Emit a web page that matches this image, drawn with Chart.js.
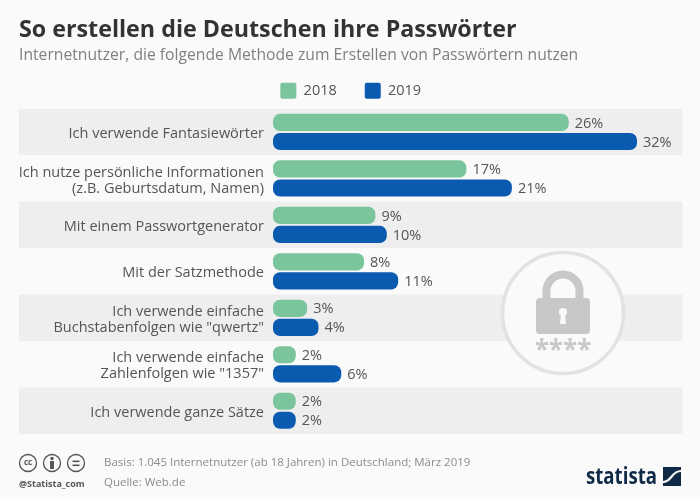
<!DOCTYPE html>
<html>
<head>
<meta charset="utf-8">
<script src="https://cdn.jsdelivr.net/npm/chart.js@4/dist/chart.umd.min.js"></script>
<style>
  html, body { margin: 0; padding: 0; background: #fafafa; }
  #wrap { width: 700px; height: 499px; }
</style>
</head>
<body>
<div id="wrap"><canvas id="pwChart"></canvas></div>
<script>
const categories = [
  'Ich verwende Fantasiewörter',
  ['Ich nutze persönliche Informationen', '(z.B. Geburtsdatum, Namen)'],
  'Mit einem Passwortgenerator',
  'Mit der Satzmethode',
  ['Ich verwende einfache', 'Buchstabenfolgen wie "qwertz"'],
  ['Ich verwende einfache', 'Zahlenfolgen wie "1357"'],
  'Ich verwende ganze Sätze'
];
const values2018 = [26, 17, 9, 8, 3, 2, 2];
const values2019 = [32, 21, 10, 11, 4, 6, 2];

const FONT = '"Open Sans", sans-serif';
const TEXT = '#555555';

// grey stripes go first so the axis labels land on top of them
const stripePlugin = {
  id: 'stripePlugin',
  beforeDraw(chart) {
    const { ctx, chartArea: { top, bottom, right }, scales: { y } } = chart;
    const band = (bottom - top) / categories.length;
    ctx.save();
    ctx.fillStyle = '#eeeeee';
    categories.forEach((c, i) => {
      if (i % 2 === 0) ctx.fillRect(19, y.getPixelForValue(i) - band / 2, right - 19, band);
    });
    ctx.restore();
  }
};

// padlock badge behind the bars
const badgePlugin = {
  id: 'badgePlugin',
  beforeDatasetsDraw(chart) {
    const { ctx } = chart;
    ctx.save();
    ctx.beginPath();
    ctx.arc(563, 313, 60.5, 0, Math.PI * 2);
    ctx.fillStyle = '#fafafa';
    ctx.fill();
    ctx.lineWidth = 3.5;
    ctx.strokeStyle = '#e2e2e2';
    ctx.stroke();

    // shackle
    ctx.beginPath();
    ctx.moveTo(546.5, 300);
    ctx.lineTo(546.5, 291);
    ctx.arc(563, 291, 16.5, Math.PI, 0);
    ctx.lineTo(579.5, 300);
    ctx.lineWidth = 8;
    ctx.strokeStyle = '#c8c8c8';
    ctx.stroke();

    // lock body and keyhole
    ctx.beginPath();
    ctx.roundRect(536, 298, 54, 36, 4);
    ctx.fillStyle = '#c8c8c8';
    ctx.fill();
    ctx.fillStyle = '#fafafa';
    ctx.beginPath();
    ctx.arc(563, 312, 4, 0, Math.PI * 2);
    ctx.fill();
    ctx.beginPath();
    ctx.moveTo(561, 313);
    ctx.lineTo(565, 313);
    ctx.lineTo(566, 324);
    ctx.lineTo(560, 324);
    ctx.closePath();
    ctx.fill();

    ctx.fillStyle = '#c8c8c8';
    ctx.font = 'bold 26px ' + FONT;
    ctx.textAlign = 'center';
    ctx.textBaseline = 'middle';
    ctx.fillText('****', 563, 352);
    ctx.restore();
  }
};

// percent labels next to the bars, then source line and logo
const annotationPlugin = {
  id: 'annotationPlugin',
  afterDraw(chart) {
    const { ctx } = chart;
    ctx.save();
    ctx.fillStyle = TEXT;
    ctx.font = '14.5px ' + FONT;
    ctx.textAlign = 'left';
    ctx.textBaseline = 'middle';
    chart.data.datasets.forEach((ds, d) => {
      chart.getDatasetMeta(d).data.forEach((bar, i) => {
        ctx.fillText(ds.data[i] + '%', bar.x + 6, bar.y + 1);
      });
    });

    ctx.fillStyle = '#8c8c8c';
    ctx.font = '11.5px ' + FONT;
    ctx.fillText('Basis: 1.045 Internetnutzer (ab 18 Jahren) in Deutschland; März 2019', 104, 463);
    ctx.fillText('Quelle: Web.de', 104, 483);

    // cc badges
    ctx.strokeStyle = '#555555';
    ctx.fillStyle = '#555555';
    ctx.lineWidth = 1.3;
    [28, 52, 76].forEach(cx => {
      ctx.beginPath();
      ctx.arc(cx, 463, 8.5, 0, Math.PI * 2);
      ctx.stroke();
    });
    ctx.font = 'bold 8px ' + FONT;
    ctx.textAlign = 'center';
    ctx.fillText('cc', 28, 463);
    ctx.beginPath();
    ctx.arc(52, 458.5, 1.7, 0, Math.PI * 2);
    ctx.fill();
    ctx.fillRect(50, 461, 4, 8);
    ctx.fillRect(72.5, 460.5, 7, 1.6);
    ctx.fillRect(72.5, 464.5, 7, 1.6);
    ctx.font = 'bold 9px ' + FONT;
    ctx.textAlign = 'left';
    ctx.fillText('@Statista_com', 19, 484);

    // statista logo
    ctx.fillStyle = '#0f2a47';
    ctx.font = 'bold 24px ' + FONT;
    ctx.fillText('statista', 586, 477, 71);
    ctx.fillRect(663, 467, 18, 19);
    ctx.strokeStyle = '#fafafa';
    ctx.lineWidth = 2.2;
    ctx.beginPath();
    ctx.moveTo(663, 482);
    ctx.bezierCurveTo(672, 482, 671, 471, 681, 471);
    ctx.stroke();
    ctx.restore();
  }
};

new Chart(document.getElementById('pwChart'), {
  type: 'bar',
  data: {
    labels: categories,
    datasets: [
      { label: '2018', data: values2018, backgroundColor: '#7bc59c', borderRadius: 7, borderSkipped: false, categoryPercentage: 0.82, barPercentage: 0.9 },
      { label: '2019', data: values2019, backgroundColor: '#0a5ab0', borderRadius: 7, borderSkipped: false, categoryPercentage: 0.82, barPercentage: 0.9 }
    ]
  },
  options: {
    indexAxis: 'y',
    responsive: true,
    maintainAspectRatio: false,
    animation: false,
    layout: { padding: { left: 19, right: 17.5, top: 16, bottom: 65 } },
    scales: {
      x: { display: false, min: 0, max: 36 },
      y: {
        afterFit(axis) { axis.width = 254; },
        grid: { display: false },
        border: { display: false },
        ticks: {
          color: TEXT,
          font: { family: FONT, size: 14.5, lineHeight: 1.1 },
          padding: 1,
          labelOffset: 2,
          autoSkip: false
        }
      }
    },
    plugins: {
      title: {
        display: true,
        text: 'So erstellen die Deutschen ihre Passwörter',
        align: 'start',
        color: '#333333',
        font: { family: FONT, size: 23.25, weight: 'bold' },
        padding: { top: 0, bottom: 2.5 }
      },
      subtitle: {
        display: true,
        text: 'Internetnutzer, die folgende Methode zum Erstellen von Passwörtern nutzen',
        align: 'start',
        color: '#808080',
        font: { family: FONT, size: 15.7 },
        padding: { top: 0, bottom: -10.5 }
      },
      legend: {
        position: 'top',
        align: 'center',
        labels: {
          color: TEXT,
          font: { family: FONT, size: 14.5 },
          boxWidth: 16,
          boxHeight: 16,
          padding: 28,
          useBorderRadius: true,
          borderRadius: 2
        }
      },
      tooltip: { enabled: false }
    }
  },
  plugins: [stripePlugin, badgePlugin, annotationPlugin]
});
</script>
</body>
</html>
